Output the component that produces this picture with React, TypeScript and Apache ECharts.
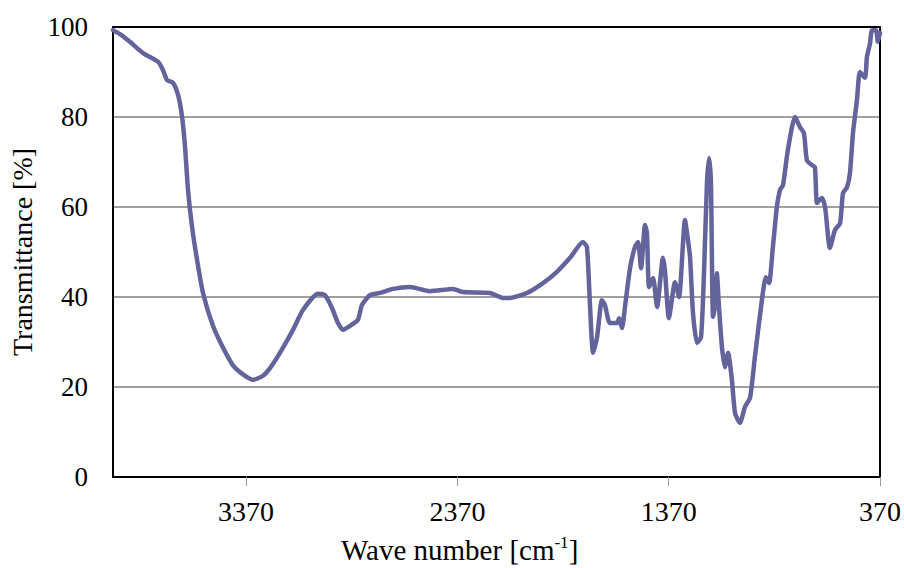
import React, { useEffect, useRef } from "react";
import * as echarts from "echarts";

const wavenumbers: number[] = [
  4000, 3960, 3920, 3858, 3787, 3763, 3744, 3716, 3692, 3673, 3659, 3645, 3626, 3602, 3574,
  3527, 3479, 3432, 3385, 3337, 3290, 3257, 3210, 3148, 3101, 3030, 2997, 2964, 2935, 2912,
  2878, 2841, 2822, 2784, 2736, 2675, 2594, 2500, 2391, 2344, 2216, 2154, 2121, 2041,
  1965, 1899, 1837, 1776, 1757, 1743, 1728, 1709, 1686, 1672, 1648, 1615, 1605, 1591,
  1577, 1553, 1530, 1515, 1501, 1482, 1473, 1463, 1444, 1425, 1397, 1388, 1369, 1340,
  1321, 1293, 1279, 1269, 1255, 1236, 1217, 1203, 1189, 1179, 1170, 1160, 1146, 1142,
  1132, 1118, 1104, 1089, 1071, 1056, 1033, 1009, 985, 962, 929, 910, 895, 877, 858,
  843, 829, 806, 772, 749, 730, 716, 692, 678, 668, 645, 630, 607, 583, 559, 545, 526,
  512, 498, 479, 465, 441, 432, 417, 408, 389, 380, 370,
];

const transmittance: number[] = [
  99.3, 98.2, 96.7, 94.2, 92.3, 90.4, 88.2, 87.6, 84.9, 80.0, 73.3, 63.8, 55.6, 48.2, 40.9,
  33.6, 28.7, 24.8, 22.8, 21.6, 22.5, 24.2, 27.6, 32.7, 37.1, 40.7, 40.4, 37.6, 34.2, 32.7,
  33.6, 34.9, 38.2, 40.4, 40.9, 41.8, 42.2, 41.3, 41.8, 41.1, 40.9, 39.8, 39.8, 40.9,
  43.1, 45.6, 48.7, 52.2, 51.1, 38.7, 27.6, 31.1, 39.3, 38.2, 34.2, 34.2, 35.3, 33.1,
  37.8, 46.4, 51.1, 52.2, 46.4, 56.0, 54.2, 42.2, 44.2, 37.8, 48.7, 46.0, 35.3, 43.3,
  40.0, 57.1, 52.7, 48.9, 36.4, 29.8, 31.1, 45.3, 65.3, 70.9, 65.3, 35.6, 39.3, 45.3,
  37.8, 28.9, 24.4, 27.6, 21.6, 14.2, 12.0, 15.6, 17.6, 26.7, 39.3, 44.4, 43.1, 51.1, 60.0,
  63.8, 64.9, 72.7, 80.0, 77.8, 76.4, 70.4, 69.3, 68.9, 60.9, 62.0, 60.0, 50.9, 54.9, 56.4, 63.1, 64.4,
  67.6, 76.4, 83.8, 90.0, 88.7, 93.3, 96.4, 99.3, 99.3, 96.7, 98.7,
];

const xTickValues: number[] = [370, 1370, 2370, 3370];
const yTickValues: number[] = [0, 20, 40, 60, 80, 100];

const FONT = "'Liberation Serif', 'Times New Roman', serif";

export default function App() {
  const ref = useRef<HTMLDivElement>(null);

  useEffect(() => {
    if (!ref.current) return;
    const chart = echarts.init(ref.current, undefined, { renderer: "svg" });
    const data = wavenumbers.map((w, i) => [w, transmittance[i]]);
    const frameLine = { show: true, onZero: false, lineStyle: { color: "#000", width: 2 } };
    chart.setOption({
      animation: false,
      backgroundColor: "#ffffff",
      title: {
        text: "{a|Wave number [cm}{s|-1}{a|]}",
        left: 341,
        top: 534,
        padding: 0,
        textStyle: {
          fontWeight: "normal",
          rich: {
            a: { fontFamily: FONT, fontSize: 29, fontWeight: "normal", color: "#000", lineHeight: 32 },
            s: { fontFamily: FONT, fontSize: 17, fontWeight: "normal", color: "#000", lineHeight: 32, verticalAlign: "top", padding: [0, 0, 12, 0] },
          },
        },
      },
      grid: {
        left: 113,
        right: 24,
        top: 27,
        bottom: 91,
        show: false,
      },
      xAxis: [
        {
          type: "value",
          inverse: true,
          min: 370,
          max: 4000,
          axisLine: frameLine,
          axisTick: {
            show: true,
            length: 9,
            lineStyle: { color: "#999", width: 1 },
            customValues: xTickValues,
          },
          axisLabel: {
            customValues: xTickValues,
            formatter: (v: number) => String(v),
            color: "#000",
            fontFamily: FONT,
            fontSize: 28,
            margin: 20,
          },
          splitLine: { show: false },
        },
        {
          type: "value",
          position: "top",
          inverse: true,
          min: 370,
          max: 4000,
          axisLine: frameLine,
          axisTick: { show: false },
          axisLabel: { show: false },
          splitLine: { show: false },
        },
      ],
      yAxis: [
        {
          type: "value",
          min: 0,
          max: 100,
          interval: 20,
          name: "Transmittance [%]",
          nameLocation: "middle",
          nameGap: 74,
          nameTextStyle: { fontFamily: FONT, fontSize: 28, color: "#000" },
          axisLine: frameLine,
          axisTick: { show: false },
          axisLabel: {
            color: "#000",
            fontFamily: FONT,
            fontSize: 27,
            margin: 25,
            customValues: yTickValues,
          },
          splitLine: { show: true, lineStyle: { color: "#a0a0a0", width: 2 } },
        },
        {
          type: "value",
          position: "right",
          min: 0,
          max: 100,
          axisLine: frameLine,
          axisTick: { show: false },
          axisLabel: { show: false },
          splitLine: { show: false },
        },
      ],
      series: [
        {
          type: "line",
          xAxisIndex: 0,
          yAxisIndex: 0,
          data,
          symbol: "none",
          smooth: 0.2,
          lineStyle: { color: "#62649B", width: 4.5, join: "round", cap: "round" },
          itemStyle: { color: "#62649B" },
        },
      ],
    });
    return () => chart.dispose();
  }, []);

  return (
    <div
      ref={ref}
      style={{ position: "fixed", left: 0, top: 0, width: 904, height: 568 }}
    />
  );
}
